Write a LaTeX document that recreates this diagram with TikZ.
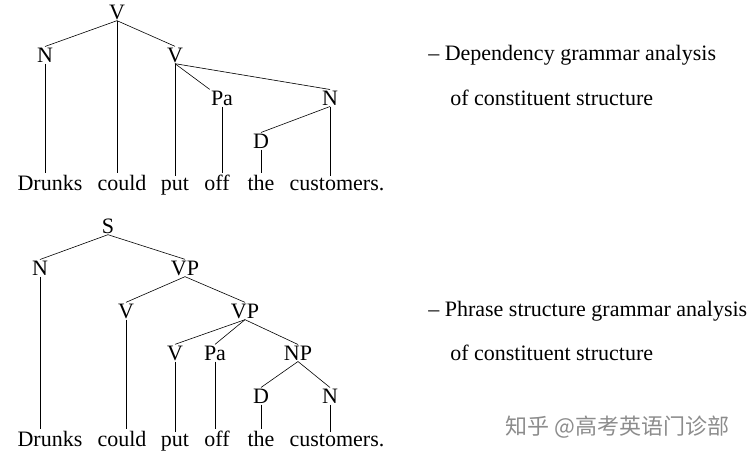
\documentclass[tikz,border=0pt]{standalone}
\usepackage{fontspec}
\setmainfont{Liberation Serif}
\newfontfamily\cjk{Noto Sans CJK SC}
\begin{document}
\begin{tikzpicture}[x=1pt,y=-1pt,
  lab/.style={font=\fontsize{22}{26}\selectfont,inner sep=1pt},
  every path/.style={line width=0.6pt}]
\useasboundingbox (0,0) rectangle (754,458);
% top tree
\node[lab] (tV) at (117,12) {V};
\node[lab] (tN) at (45,55) {N};
\node[lab] (tV2) at (175,55) {V};
\node[lab] (tPa) at (222,98) {Pa};
\node[lab] (tN2) at (330,98) {N};
\node[lab] (tD) at (261,141) {D};
\node[lab,anchor=base] (w1) at (50,190) {Drunks};
\node[lab,anchor=base] (w2) at (122,190) {could};
\node[lab,anchor=base] (w3) at (175,190) {put};
\node[lab,anchor=base] (w4) at (217,190) {off};
\node[lab,anchor=base] (w5) at (261,190) {the};
\node[lab,anchor=base] (w6) at (337,190) {customers.};
\draw (tV.south) -- (tN.north);
\draw (tV.south) -- (tV2.north);
\draw (tV.south) -- (tV.south |- w2.north);
\draw (tN.south) -- (tN.south |- w1.north);
\draw (tV2.south) -- (tPa.north west);
\draw (tV2.south) -- (tN2.north);
\draw (tV2.south) -- (tV2.south |- w3.north);
\draw (tPa.south) -- (tPa.south |- w4.north);
\draw (tN2.south) -- (tD.north);
\draw (tN2.south) -- (tN2.south |- w6.north);
\draw (tD.south) -- (tD.south |- w5.north);
% bottom tree
\node[lab] (S) at (108,226) {S};
\node[lab] (bN) at (40,268) {N};
\node[lab] (VP) at (185,268) {VP};
\node[lab] (bV) at (126,311) {V};
\node[lab] (VP2) at (245,311) {VP};
\node[lab] (bV2) at (175,353) {V};
\node[lab] (bPa) at (215,353) {Pa};
\node[lab] (NP) at (298,353) {NP};
\node[lab] (bD) at (261,396) {D};
\node[lab] (bN2) at (330,396) {N};
\node[lab,anchor=base] (u1) at (50,446) {Drunks};
\node[lab,anchor=base] (u2) at (122,446) {could};
\node[lab,anchor=base] (u3) at (175,446) {put};
\node[lab,anchor=base] (u4) at (217,446) {off};
\node[lab,anchor=base] (u5) at (261,446) {the};
\node[lab,anchor=base] (u6) at (337,446) {customers.};
\draw (S.south) -- (bN.north);
\draw (S.south) -- (VP.north);
\draw (bN.south) -- (bN.south |- u1.north);
\draw (VP.south) -- (bV.north);
\draw (VP.south) -- (VP2.north);
\draw (bV.south) -- (bV.south |- u2.north);
\draw (VP2.south) -- (bV2.north);
\draw (VP2.south) -- (bPa.north);
\draw (VP2.south) -- (NP.north);
\draw (bV2.south) -- (bV2.south |- u3.north);
\draw (bPa.south) -- (bPa.south |- u4.north);
\draw (NP.south) -- (bD.north);
\draw (NP.south) -- (bN2.north);
\draw (bD.south) -- (bD.south |- u5.north);
\draw (bN2.south) -- (bN2.south |- u6.north);
% captions
\node[lab,anchor=west] (c1) at (427,55) {– Dependency grammar analysis};
\node[lab,anchor=west] (c2) at (449,98) {of constituent structure};
\node[lab,anchor=west] (c3) at (427,311) {– Phrase structure grammar analysis};
\node[lab,anchor=west] (c4) at (449,353) {of constituent structure};
\node[anchor=west,inner sep=0pt,text=black!45,font=\cjk\fontsize{22}{26}\selectfont] (wm) at (505,427) {知乎 @高考英语门诊部};
\end{tikzpicture}
\end{document}
